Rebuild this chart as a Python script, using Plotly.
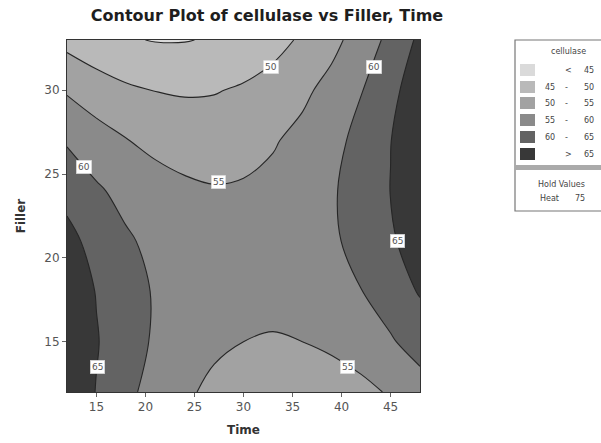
import plotly.graph_objects as go

# ---- data ----
time_vals = [12, 15, 18, 21, 24, 27, 30, 33, 36, 39, 42, 45, 48]
filler_vals = [12, 15, 18, 21, 24, 27, 30, 33]
# cellulase (Heat held at 75); one row per Filler value
cellulase = [
    [69.0, 64.8, 61.2, 58.2, 55.8, 53.9, 52.7, 52.1, 52.0, 52.6, 53.7, 55.5, 57.8],
    [69.2, 65.3, 62.1, 59.4, 57.3, 55.9, 55.0, 54.7, 55.0, 55.9, 57.4, 59.5, 62.1],
    [68.3, 64.8, 61.9, 59.6, 57.9, 56.7, 56.2, 56.2, 56.9, 58.1, 59.9, 62.4, 65.4],
    [66.5, 63.3, 60.7, 58.7, 57.3, 56.5, 56.3, 56.7, 57.7, 59.3, 61.5, 64.3, 67.6],
    [63.5, 60.7, 58.5, 56.8, 55.8, 55.3, 55.5, 56.2, 57.5, 59.5, 62.0, 65.1, 68.8],
    [59.5, 57.1, 55.2, 53.9, 53.2, 53.0, 53.5, 54.6, 56.3, 58.6, 61.4, 64.9, 68.9],
    [54.5, 52.4, 50.8, 49.9, 49.5, 49.7, 50.6, 52.0, 54.0, 56.6, 59.8, 63.6, 68.0],
    [48.5, 46.7, 45.4, 44.8, 44.8, 45.4, 46.6, 48.3, 50.7, 53.6, 57.2, 61.3, 66.0],
]
levels = [45, 50, 55, 60, 65]
band_labels_lo = ["<", "45", "50", "55", "60", ">"]
band_labels_hi = ["45", "50", "55", "60", "65", "65"]
band_colors = ["#dadada", "#b9b9b9", "#a2a2a2", "#8a8a8a", "#636363", "#383838"]

label_time = [32.8, 43.3, 13.7, 27.5, 45.7, 15.1, 40.6]
label_filler = [31.4, 31.4, 25.45, 24.5, 21.0, 13.5, 13.5]
label_text = ["50", "60", "60", "55", "65", "65", "55"]

hold_factor = "Heat"
hold_value = "75"

# ---- layout geometry (pixels) ----
W, H = 601, 443
PL, PR, PT, PB = 67, 420, 40, 392


def px_x(px):
    return (px - PL) / (PR - PL)


def px_y(py):
    return (PB - py) / (PB - PT)


# stepped colorscale: band centres 42.5..67.5 map to fractions 0,0.2,...,1
nb = len(band_colors)
cs = []
for i, c in enumerate(band_colors):
    lo = 0 if i == 0 else (i - 0.5) / (nb - 1)
    hi = 1 if i == nb - 1 else (i + 0.5) / (nb - 1)
    cs.append([lo, c])
    cs.append([hi, c])

fig = go.Figure()
fig.add_trace(go.Contour(
    x=time_vals, y=filler_vals, z=cellulase,
    zmin=levels[0] - 2.5, zmax=levels[-1] + 2.5,
    colorscale=cs, showscale=False,
    contours=dict(start=levels[0], end=levels[-1], size=5, coloring="fill"),
    line=dict(color="#262626", width=1.1, smoothing=1.0),
    hoverinfo="skip",
))

# contour labels (white boxes)
for t, f, s in zip(label_time, label_filler, label_text):
    fig.add_annotation(x=t, y=f, text=s, showarrow=False,
                       xanchor="center", yanchor="middle",
                       font=dict(family="DejaVu Sans", size=9, color="#555"),
                       bgcolor="white", bordercolor="#cccccc", borderwidth=0.5,
                       borderpad=1.5)

shapes = []
ann = []
LF = dict(family="DejaVu Sans", size=8, color="#444")
# legend box
LX0, LX1, LY0, LY1 = 515, 612, 40, 211
shapes.append(dict(type="rect", xref="paper", yref="paper",
                   x0=px_x(LX0), x1=px_x(LX1), y0=px_y(LY1), y1=px_y(LY0),
                   line=dict(color="#777", width=1.2), fillcolor="white"))
shapes.append(dict(type="rect", xref="paper", yref="paper",
                   x0=px_x(LX0), x1=px_x(LX1), y0=px_y(170), y1=px_y(165),
                   line=dict(width=0), fillcolor="#aaaaaa"))
ann.append(dict(x=px_x(568), y=px_y(52), text="cellulase"))
row_y = [70, 87, 103, 120, 137, 154]
for i in range(nb):
    y = row_y[i]
    shapes.append(dict(type="rect", xref="paper", yref="paper",
                       x0=px_x(520), x1=px_x(535), y0=px_y(y + 6), y1=px_y(y - 6),
                       line=dict(width=0), fillcolor=band_colors[i]))
    lo = band_labels_lo[i]
    if lo in ("<", ">"):
        ann.append(dict(x=px_x(568), y=px_y(y), text=lo))
    else:
        ann.append(dict(x=px_x(550), y=px_y(y), text=lo))
        ann.append(dict(x=px_x(566), y=px_y(y), text="-"))
    ann.append(dict(x=px_x(589), y=px_y(y), text=band_labels_hi[i]))
ann.append(dict(x=px_x(561), y=px_y(184), text="Hold Values"))
ann.append(dict(x=px_x(549), y=px_y(198), text=hold_factor))
ann.append(dict(x=px_x(580), y=px_y(198), text=hold_value))

for a in ann:
    fig.add_annotation(xref="paper", yref="paper", showarrow=False,
                       xanchor="center", yanchor="middle", font=LF, **a)

fig.update_layout(
    width=W, height=H,
    margin=dict(l=PL, r=W - PR, t=PT, b=H - PB),
    paper_bgcolor="white", plot_bgcolor="white",
    shapes=shapes,
    title=dict(text="<b>Contour Plot of cellulase vs Filler, Time</b>",
               x=px_x(267), xref="paper", xanchor="center",
               y=1 - 15 / H, yanchor="middle",
               font=dict(family="DejaVu Sans", size=16, color="#1e1e1e")),
    xaxis=dict(range=[12, 48], tickvals=[15, 20, 25, 30, 35, 40, 45],
               ticks="outside", ticklen=4, tickcolor="#666", automargin=False,
               showgrid=False, zeroline=False,
               showline=True, linecolor="#333", linewidth=1, mirror=True,
               tickfont=dict(family="DejaVu Sans", size=12, color="#555"),
               title=dict(text="<b>Time</b>", standoff=12,
                          font=dict(family="DejaVu Sans", size=12, color="#333"))),
    yaxis=dict(range=[12, 33], tickvals=[15, 20, 25, 30],
               ticks="outside", ticklen=4, tickcolor="#666", automargin=False,
               showgrid=False, zeroline=False,
               showline=True, linecolor="#333", linewidth=1, mirror=True,
               tickfont=dict(family="DejaVu Sans", size=12, color="#555"),
               title=dict(text="<b>Filler</b>", standoff=16,
                          font=dict(family="DejaVu Sans", size=12, color="#333"))),
)

fig.write_html("out.html")
